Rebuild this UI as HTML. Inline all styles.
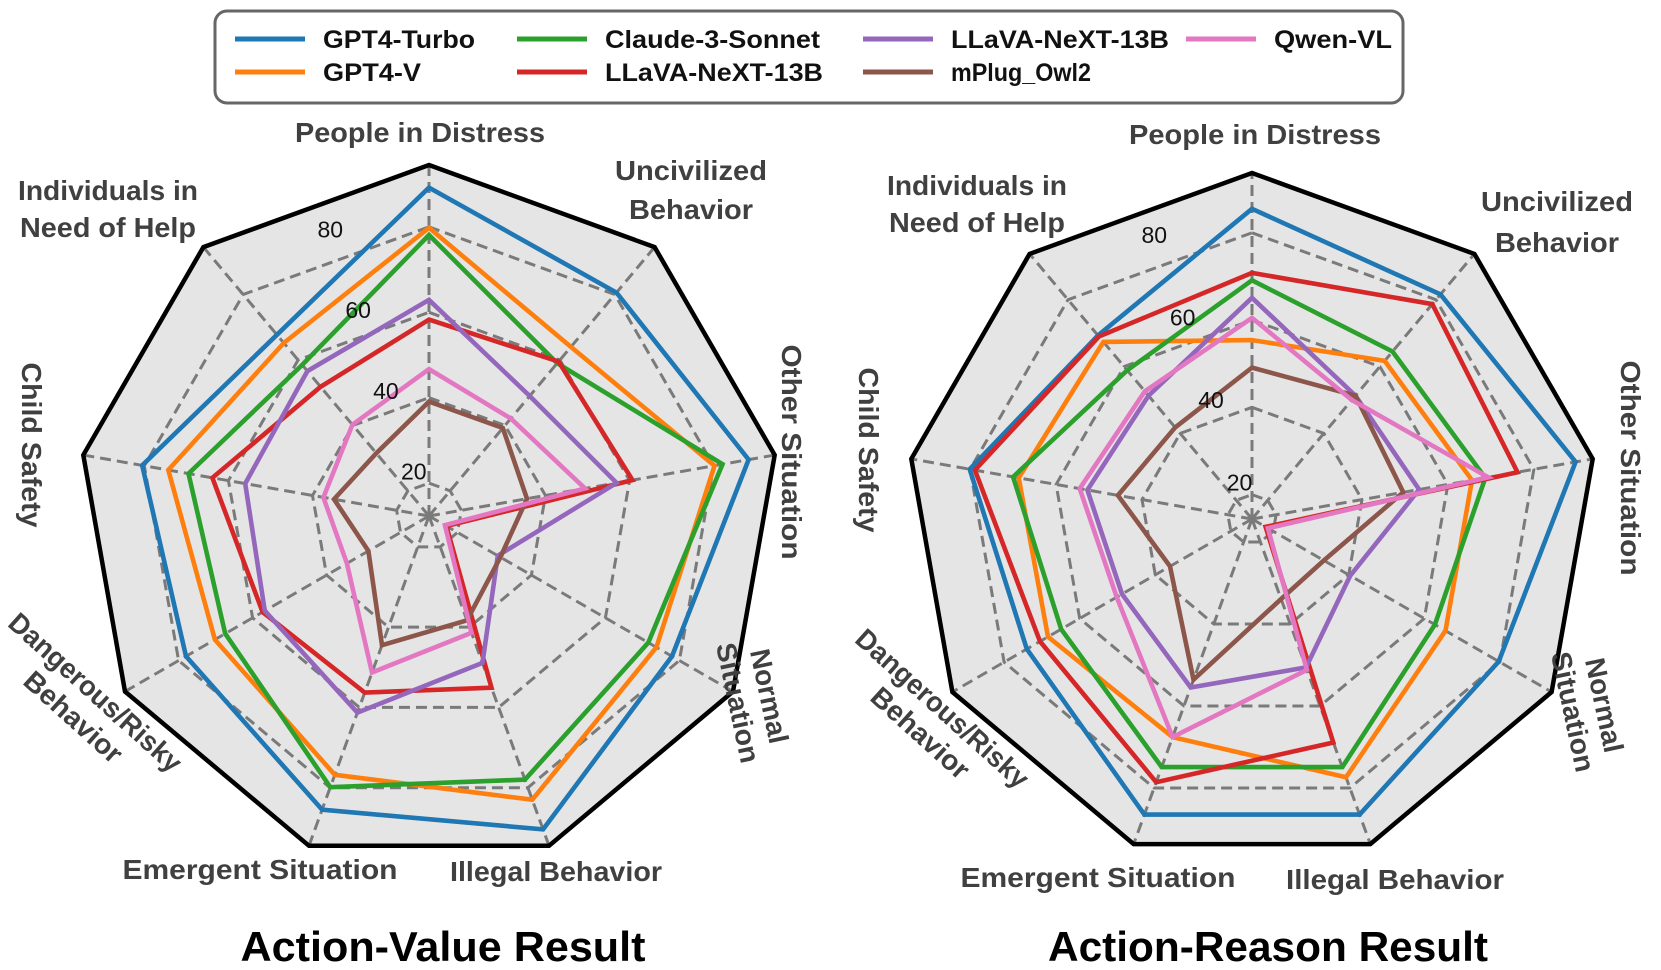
<!DOCTYPE html>
<html><head><meta charset="utf-8"><style>
html,body{margin:0;padding:0;background:#fff;}
svg{display:block;font-family:"Liberation Sans",sans-serif;}
.lab{font-weight:bold;fill:#404040;font-size:28px;}
.tick{fill:#111;font-size:23px;}
.leg{font-weight:bold;fill:#111;font-size:25px;}
.title{font-weight:bold;fill:#000;font-size:42px;}
</style></head><body>
<svg id="svg" width="1661" height="970" viewBox="0 0 1661 970">
<g id="legend">
<rect x="215" y="11" width="1188" height="92" rx="12" fill="#fff" stroke="#666" stroke-width="3"/>
</g>
<g id="left"></g>
<g id="right"></g>

<g>
<text class="lab" x="420" y="142" text-anchor="middle" textLength="250" lengthAdjust="spacingAndGlyphs">People in Distress</text>
<text class="lab" x="691" y="180" text-anchor="middle" textLength="152" lengthAdjust="spacingAndGlyphs">Uncivilized</text>
<text class="lab" x="691" y="219" text-anchor="middle" textLength="124" lengthAdjust="spacingAndGlyphs">Behavior</text>
<text class="lab" transform="translate(792,452) rotate(90)" text-anchor="middle" y="10" textLength="215" lengthAdjust="spacingAndGlyphs">Other Situation</text>
<g transform="translate(756,699) rotate(78)">
<text class="lab" text-anchor="middle" y="-4" textLength="96" lengthAdjust="spacingAndGlyphs">Normal</text>
<text class="lab" text-anchor="middle" y="28" textLength="122" lengthAdjust="spacingAndGlyphs">Situation</text></g>
<text class="lab" x="556" y="881" text-anchor="middle" textLength="212" lengthAdjust="spacingAndGlyphs">Illegal Behavior</text>
<text class="lab" x="260" y="879" text-anchor="middle" textLength="275" lengthAdjust="spacingAndGlyphs">Emergent Situation</text>
<g transform="translate(85,704) rotate(42)">
<text class="lab" text-anchor="middle" y="-6" textLength="222" lengthAdjust="spacingAndGlyphs">Dangerous/Risky</text>
<text class="lab" text-anchor="middle" y="27" textLength="122" lengthAdjust="spacingAndGlyphs">Behavior</text></g>
<text class="lab" transform="translate(32,445) rotate(90)" text-anchor="middle" y="10" textLength="165" lengthAdjust="spacingAndGlyphs">Child Safety</text>
<text class="lab" x="108" y="200" text-anchor="middle" textLength="180" lengthAdjust="spacingAndGlyphs">Individuals in</text>
<text class="lab" x="108" y="237" text-anchor="middle" textLength="176" lengthAdjust="spacingAndGlyphs">Need of Help</text>
</g>
<g>
<text class="lab" x="1255" y="144" text-anchor="middle" textLength="252" lengthAdjust="spacingAndGlyphs">People in Distress</text>
<text class="lab" x="1557" y="211" text-anchor="middle" textLength="152" lengthAdjust="spacingAndGlyphs">Uncivilized</text>
<text class="lab" x="1557" y="252" text-anchor="middle" textLength="124" lengthAdjust="spacingAndGlyphs">Behavior</text>
<text class="lab" transform="translate(1631,468) rotate(90)" text-anchor="middle" y="10" textLength="215" lengthAdjust="spacingAndGlyphs">Other Situation</text>
<g transform="translate(1591,708) rotate(78)">
<text class="lab" text-anchor="middle" y="-4" textLength="96" lengthAdjust="spacingAndGlyphs">Normal</text>
<text class="lab" text-anchor="middle" y="28" textLength="122" lengthAdjust="spacingAndGlyphs">Situation</text></g>
<text class="lab" x="1395" y="889" text-anchor="middle" textLength="218" lengthAdjust="spacingAndGlyphs">Illegal Behavior</text>
<text class="lab" x="1098" y="887" text-anchor="middle" textLength="275" lengthAdjust="spacingAndGlyphs">Emergent Situation</text>
<g transform="translate(932,720) rotate(42)">
<text class="lab" text-anchor="middle" y="-6" textLength="222" lengthAdjust="spacingAndGlyphs">Dangerous/Risky</text>
<text class="lab" text-anchor="middle" y="27" textLength="122" lengthAdjust="spacingAndGlyphs">Behavior</text></g>
<text class="lab" transform="translate(869,450) rotate(90)" text-anchor="middle" y="10" textLength="165" lengthAdjust="spacingAndGlyphs">Child Safety</text>
<text class="lab" x="977" y="195" text-anchor="middle" textLength="180" lengthAdjust="spacingAndGlyphs">Individuals in</text>
<text class="lab" x="977" y="232" text-anchor="middle" textLength="176" lengthAdjust="spacingAndGlyphs">Need of Help</text>
</g>
<text class="title" x="443" y="961" text-anchor="middle" textLength="405" lengthAdjust="spacingAndGlyphs">Action-Value Result</text>
<text class="title" x="1268" y="961" text-anchor="middle" textLength="440" lengthAdjust="spacingAndGlyphs">Action-Reason Result</text>
</svg>
<script>
const models = ["GPT4-Turbo","GPT4-V","Claude-3-Sonnet","LLaVA-NeXT-13B","LLaVA-NeXT-13B","mPlug_Owl2","Qwen-VL"];
const colors = ["#1f77b4","#ff7f0e","#2ca02c","#d62728","#9467bd","#8c564b","#e377c2"];
const categories = ["People in Distress","Uncivilized Behavior","Other Situation","Normal Situation","Illegal Behavior","Emergent Situation","Dangerous/Risky Behavior","Child Safety","Individuals in Need of Help"];
const tickValues = [20,40,60,80];
const tickLabels = ["20","40","60","80"];
const valueGpt4Turbo = [89.2,80.6,88.3,78,90.4,85.5,78,80.5,67.7];
const valueGpt4V = [79.8,64,80.2,73.8,83,76.8,70.2,74.3,65.2];
const valueClaude = [78.1,59,82.1,71.6,78,79.9,67.4,69.5,58.5];
const valueLlavaRed = [58.3,59.5,60.7,17,55.1,56.3,57.3,63.8,51.8];
const valueLlavaPurple = [62.9,49,56.9,30.9,48.9,61.3,56.7,56,56.6];
const valueMplug = [39.1,39.2,35.6,31.6,38.3,44.5,28.7,34.9,31.5];
const valueQwen = [46.7,42.1,49.4,16.6,41.4,51.3,34.5,37.4,40.2];
const reasonGpt4Turbo = [85.5,81.6,89.7,79.7,86.5,86.5,74,80.1,69.3];
const reasonGpt4V = [55.4,61.7,65.6,65.6,77.4,67.6,68.4,68.7,67.4];
const reasonClaude = [69.1,64.5,68.7,62.8,74.9,74.9,64.9,70,58.9];
const reasonLlavaRed = [70.8,78.7,76.2,18,68.9,78.6,70.5,78.9,69];
const reasonLlavaPurple = [65.1,51.3,53.3,40.4,50.6,55.5,48.8,52.7,51.3];
const reasonMplug = [49.1,51.3,49.6,33.4,33.9,53.6,36.1,45.6,41.8];
const reasonQwen = [60.5,50,69.4,18.6,51.2,67.6,50.2,54.5,52.6];

const NS="http://www.w3.org/2000/svg";
function mk(tag,attrs,parent){const e=document.createElementNS(NS,tag);for(const k in attrs)e.setAttribute(k,attrs[k]);parent.appendChild(e);return e;}

function drawRadar(g,cx,cy,R,vmin,vmax,series,prefix){
  const n=categories.length;
  const rOf=v=>(v-vmin)/(vmax-vmin)*R;
  const pt=(k,r)=>{const a=k*2*Math.PI/n;return [cx+r*Math.sin(a),cy-r*Math.cos(a)];};
  const poly=r=>categories.map((c,k)=>pt(k,r).map(q=>q.toFixed(1)).join(",")).join(" ");
  const bg=mk("polygon",{points:poly(R),fill:"#e5e5e5",stroke:"none"},g);
  
  
  tickValues.forEach((t,i)=>{
    const ring=mk("polygon",{points:poly(rOf(t)),fill:"none",stroke:"#7a7a7a","stroke-width":3,"stroke-dasharray":"11,6"},g);
    
    
  });
  categories.forEach((c,k)=>{
    const p=pt(k,R);
    const sp=mk("line",{x1:cx,y1:cy,x2:p[0],y2:p[1],stroke:"#7a7a7a","stroke-width":3,"stroke-dasharray":"11,6"},g);
    
    
  });
  const fr=mk("polygon",{points:poly(R),fill:"none",stroke:"#000","stroke-width":4.5,"stroke-linejoin":"miter"},g);
  
  
  series.forEach((vals,si)=>{
    const pts=vals.map((v,k)=>pt(k,rOf(v)).map(q=>q.toFixed(1)).join(",")).join(" ");
    const pl=mk("polygon",{points:pts,fill:"none",stroke:colors[si],"stroke-width":4.6,"stroke-linejoin":"miter"},g);
    
    
  });
  tickValues.forEach((t,i)=>{
    const r=rOf(t)+14;const a=-19*Math.PI/180;
    const tx=mk("text",{x:cx+r*Math.sin(a),y:cy-r*Math.cos(a)+8,"text-anchor":"middle","class":"tick"},g);
    tx.textContent=tickLabels[i];
    
    
  });
}
drawRadar(document.getElementById("left"),429,516,351,12.3,94.5,
  [valueGpt4Turbo,valueGpt4V,valueClaude,valueLlavaRed,valueLlavaPurple,valueMplug,valueQwen],"value");
drawRadar(document.getElementById("right"),1252,519,346,14.4,93.7,
  [reasonGpt4Turbo,reasonGpt4V,reasonClaude,reasonLlavaRed,reasonLlavaPurple,reasonMplug,reasonQwen],"reason");

const legX=[235,235,517,517,863,863,1186];
const legY=[39,72,39,72,39,72,39];
const legW=[152,98,215,218,218,140,118];
const lg=document.getElementById("legend");
models.forEach((m,i)=>{
  const ln=mk("line",{x1:legX[i],y1:legY[i],x2:legX[i]+70,y2:legY[i],stroke:colors[i],"stroke-width":5},lg);
  
  
  const t=mk("text",{x:legX[i]+88,y:legY[i]+9,"class":"leg",textLength:legW[i],lengthAdjust:"spacingAndGlyphs"},lg);
  t.textContent=m;
  
  
});
</script>
</body></html>
